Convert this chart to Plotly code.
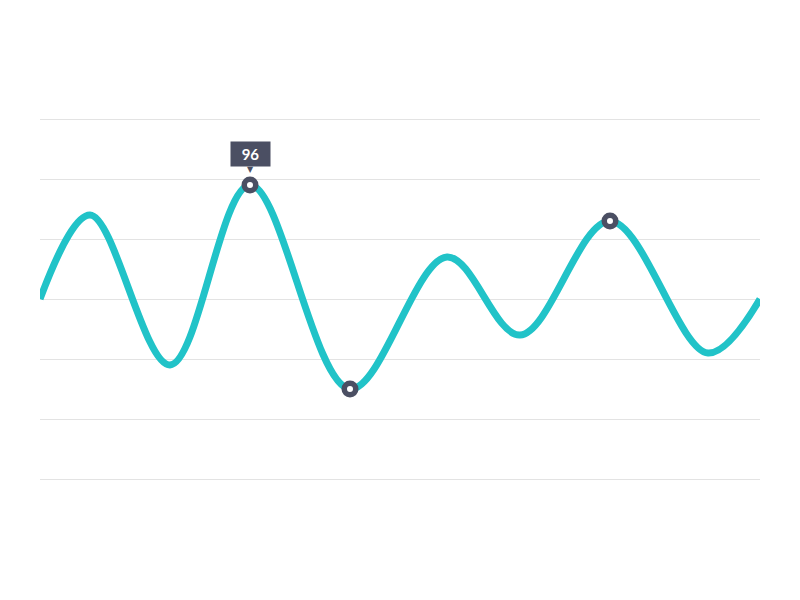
import plotly.graph_objects as go

# curve points (x in px-like units, y values)
x_vals = [0, 50, 130, 210, 310, 407, 480, 570, 668, 720]
y_vals = [58, 86, 36, 96, 28, 72, 46, 84, 40, 58]

# highlighted points
mark_x = [210, 310, 570]
mark_y = [96, 28, 84]

label_x = 210
label_y = 96
label_text = "96"

teal = "#21C3C8"
dark = "#4B4F63"

fig = go.Figure()

fig.add_trace(go.Scatter(
    x=x_vals, y=y_vals,
    mode="lines",
    line=dict(color=teal, width=7, shape="spline", smoothing=1.0),
    cliponaxis=False,
    hoverinfo="skip",
))

fig.add_trace(go.Scatter(
    x=mark_x, y=mark_y,
    mode="markers",
    marker=dict(size=11.5, color="white", line=dict(color=dark, width=5.5)),
    cliponaxis=False,
    hoverinfo="skip",
))

# tooltip box above the peak
fig.add_annotation(
    x=label_x, y=label_y, text="<b>" + label_text + "</b>",
    showarrow=False, yshift=31,
    bgcolor=dark, width=33, height=18, borderpad=3,
    font=dict(family="Lato", size=15, color="white"),
)
# small pointer under the box
fig.add_annotation(
    x=label_x, y=label_y, text="▼",
    showarrow=False, yshift=16,
    font=dict(family="DejaVu Sans", size=8, color=dark),
)

# page body adds 8px offset, so margins are shifted to compensate
fig.update_layout(
    width=800, height=600,
    margin=dict(l=32, r=48, t=101, b=119),
    plot_bgcolor="white", paper_bgcolor="white",
    showlegend=False,
    xaxis=dict(range=[0, 720], visible=False),
    yaxis=dict(range=[-2 - 10 / 3, 118 + 10 / 3], tick0=-2, dtick=20,
               showgrid=True, gridcolor="#E3E3E3", gridwidth=1,
               zeroline=False, showticklabels=False, ticks=""),
)

fig.write_html("out.html")
